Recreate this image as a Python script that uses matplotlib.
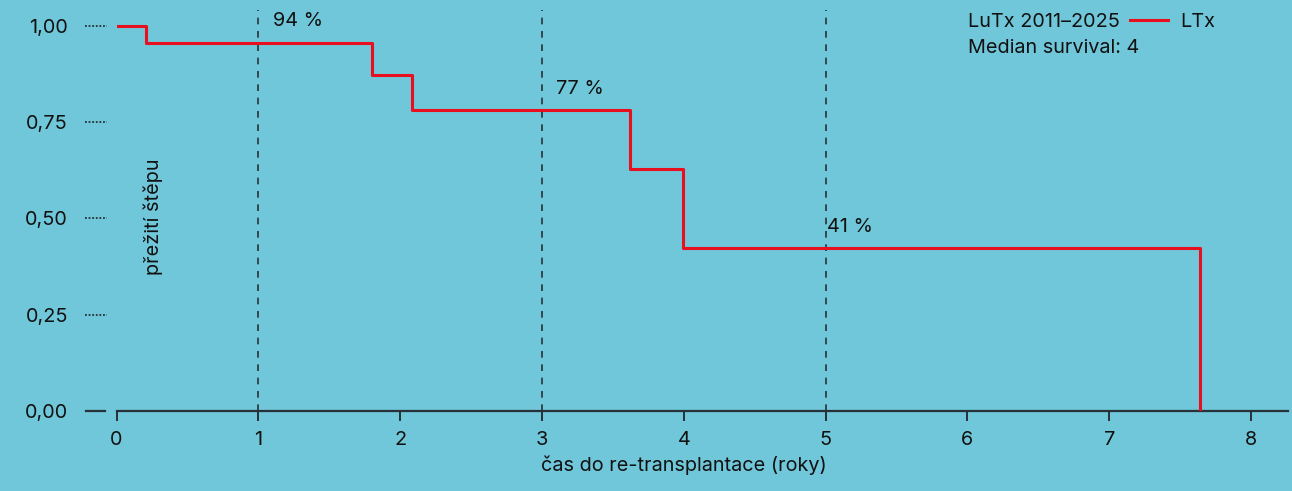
import matplotlib.pyplot as plt
from matplotlib.transforms import blended_transform_factory

# Kaplan-Meier step data (years, graft survival)
times = [0, 0.205, 1.804, 2.086, 3.623, 3.997, 7.641]
survival = [1.0, 0.957, 0.872, 0.782, 0.628, 0.422, 0.0]

milestones = [1, 3, 5]
milestone_labels = ['94 %', '77 %', '41 %']
milestone_label_x = [1.1, 3.1, 5.01]

y_ticks = [0.0, 0.25, 0.50, 0.75, 1.0]
y_tick_labels = ['0,00', '0,25', '0,50', '0,75', '1,00']
x_ticks = [0, 1, 2, 3, 4, 5, 6, 7, 8]

bg = '#70c7d9'
red = '#e8101e'
dark = '#263238'
fs = 14.3

plt.rcParams['font.family'] = ['Inter', 'DejaVu Sans']
plt.rcParams['font.size'] = fs

fig = plt.figure(figsize=(12.92, 4.91), dpi=100, facecolor=bg)
ax = fig.add_axes([0.0902, 0.1635, 0.9067, 0.816], facecolor=bg)

ax.step(times, survival, where='post', color=red, lw=2.2, zorder=3)

for m in milestones:
    ax.axvline(m, color=dark, lw=1.2, ls=(0, (4, 4)), zorder=1)

for lx, m, lab in zip(milestone_label_x, milestones, milestone_labels):
    # value of the step curve at the milestone
    val = [s for t, s in zip(times, survival) if t <= m][-1]
    ax.text(lx, val + 0.055, lab, ha='left', va='center', fontsize=fs, color='#111111')

ax.set_xlim(0, 8.26)
ax.set_ylim(0, 1.0416)
ax.set_xticks(x_ticks)
ax.set_yticks(y_ticks)
ax.set_yticklabels(y_tick_labels)

for side in ['top', 'right', 'left']:
    ax.spines[side].set_visible(False)
ax.spines['bottom'].set_color(dark)
ax.spines['bottom'].set_linewidth(1.6)

ax.tick_params(axis='x', length=7.5, width=1.4, color=dark, pad=7, labelsize=fs, labelcolor='#111111')
ax.tick_params(axis='y', length=0, pad=35, labelsize=fs, labelcolor='#111111')

# dotted y ticks, solid at zero
tr = blended_transform_factory(ax.transAxes, ax.transData)
for yv in y_ticks:
    if yv == 0:
        ax.plot([-0.0263, -0.0098], [yv, yv], transform=tr, color=dark, lw=1.6, clip_on=False)
    else:
        ax.plot([-0.0269, -0.0081], [yv, yv], transform=tr, color=dark, lw=1.3,
                ls=(0, (1, 1)), clip_on=False)

ax.set_xlabel('čas do re-transplantace (roky)', fontsize=fs, color='#111111', labelpad=5)
ax.xaxis.label.set_x(4 / 8.26)

fig.text(0.1184, 0.558, 'přežití štěpu', rotation=90, ha='center', va='center',
         fontsize=fs, color='#111111')

# legend drawn by hand
fig.text(0.749, 0.955, 'LuTx 2011–2025', ha='left', va='center', fontsize=fs, color='#111111')
fig.lines.append(plt.Line2D([1130 / 1292, 1168 / 1292], [0.959, 0.959], transform=fig.transFigure,
                            color=red, lw=2.2))
fig.text(1180 / 1292, 0.955, 'LTx', ha='left', va='center', fontsize=fs, color='#111111')
fig.text(0.749, 0.903, 'Median survival: 4', ha='left', va='center', fontsize=fs, color='#111111')

fig.savefig('out.png', dpi=100, facecolor=bg)
